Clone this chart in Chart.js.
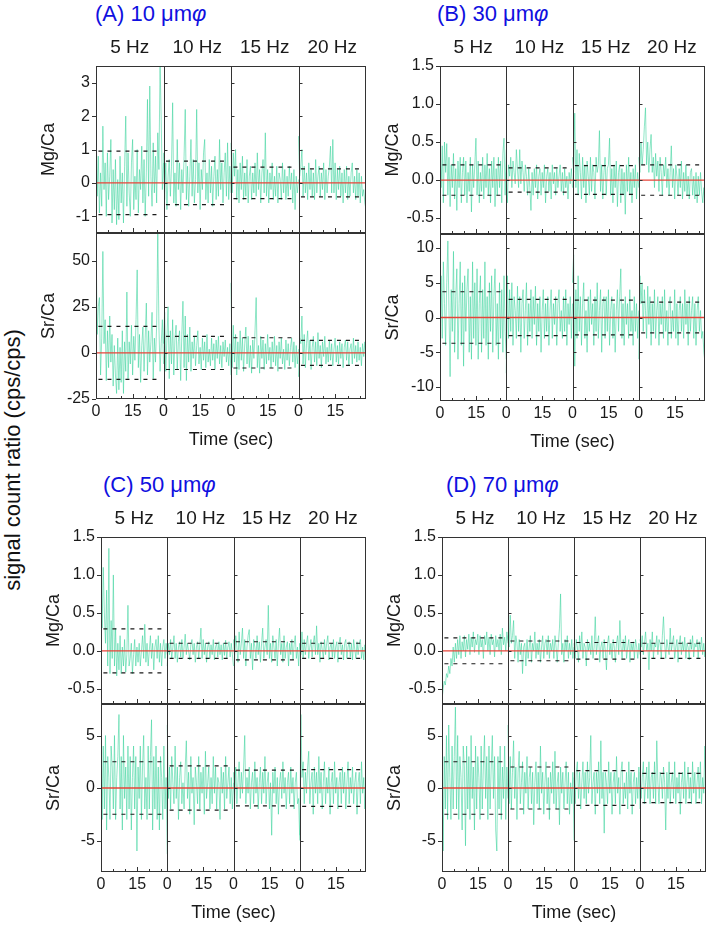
<!DOCTYPE html>
<html>
<head>
<meta charset="utf-8">
<script src="https://cdn.jsdelivr.net/npm/chart.js@4.4.1/dist/chart.umd.min.js"></script>
<style>
  html, body { margin: 0; padding: 0; background: #fff; }
  body { width: 709px; height: 928px; position: relative; overflow: hidden; font-family: "Liberation Sans", Arial, sans-serif; }
  canvas { position: absolute; }
  .panel-title { position: absolute; color: #1010e0; font-size: 22px; line-height: 24px; white-space: nowrap; }
  #ratio-label { position: absolute; left: 13px; top: 460px; font-size: 22px; white-space: nowrap;
    transform: translate(-50%, -50%) rotate(-90deg); color: #111; }
</style>
</head>
<body>
<div id="ratio-label">signal count ratio (cps/cps)</div>
<script>
// frequency segments and axis labels
const hzLabels = ['5 Hz', '10 Hz', '15 Hz', '20 Hz'];
const timeTicks = [0, 15];
const spotSizes = ['10', '30', '50', '70'];
const panelKeys = ['A', 'B', 'C', 'D'];

// (A) 10 um - Mg/Ca
const mgA5 = [2.0, -0.4, 0.8, -0.9, 0.3, -0.7, 1.7, -0.2, 0.6, -1.0, 0.9, -0.5, 0.2, 1.3, -1.2, 0.4, -0.8, 0.7, -1.25, 0.1, -1.1, 0.8, -0.6, 0.3, -1.2, 0.5, 2.0, -0.7, 0.9, -0.3, -1.0, 0.6, 1.3, -0.8, 0.2, -0.5, 1.0, -0.9, 0.4, -0.2, 1.1, -0.6, 0.7, -1.0, 0.3, 2.5, -0.4, 2.9, 0.2, -0.7, 1.2, -0.3, 0.8, -0.6, 1.5, 0.4, 3.6, 1.9, -0.2, 0.6];
const mgA10 = [0.9, -0.5, 0.6, -0.8, 0.2, 0.7, -0.4, 0.5, 2.4, -0.6, 0.3, -0.7, 1.3, -0.2, 0.6, -0.8, 0.4, -0.3, 0.8, 2.2, -0.5, 0.5, -0.7, 0.2, 1.3, -0.4, 0.7, -0.6, 0.1, 2.2, -0.3, 0.6, -0.8, 0.4, -0.2, 0.9, 1.3, -0.5, 0.3, -0.6, 0.7, -0.3, 0.5, -0.7, 0.2, 0.8, -0.5, 0.4, -0.4, 1.3, -0.2, 0.6, -0.6, 0.3, 0.9, -0.4, 1.2, -0.5, 0.5, -0.3];
const mgA15 = [1.2, -0.3, 0.9, 0.2, 1.0, -0.5, 0.4, -0.6, 0.6, -0.2, 0.8, -0.5, 0.3, -0.4, 0.7, -0.6, 0.2, 0.5, -0.5, 0.3, -0.3, 0.6, -0.4, 0.9, -0.2, 0.4, -0.6, 0.3, 0.7, -0.3, 1.5, -0.4, 0.4, -0.6, 0.3, -0.2, 0.6, -0.5, 0.2, -0.4, 0.5, -0.6, 0.3, 0.1, -0.5, 0.6, -0.3, 0.4, -0.5, 0.2, -0.4, 0.5, -0.2, 0.3, -0.6, 0.4, -0.8, 0.2, -0.3, 0.1];
const mgA20 = [1.4, 0.2, 0.5, 1.0, -0.4, 0.5, -0.3, 0.3, -0.5, 0.6, -0.2, 0.4, -0.4, 0.3, -0.5, 0.7, -0.3, 0.2, 0.5, -0.4, 0.3, -0.2, 0.6, -0.5, 0.4, -0.3, 0.2, 0.5, 1.1, -0.3, 1.3, -0.3, 0.6, -0.5, 0.4, -0.2, 0.5, -0.4, 0.3, -0.6, 0.4, -0.3, 0.5, -0.5, 0.2, -0.4, 0.3, 0.6, -0.3, 0.2, -0.5, 0.4, -0.4, 0.3, -0.6, 0.2, -0.4, -0.2, -0.6, -0.8];
// (A) 10 um - Sr/Ca
const srA5 = [66, 10, 25, 30, -12, 8, 55, 5, 18, -15, 12, -8, 20, -5, 10, -18, 4, -12, -22, 8, -20, 3, -16, 12, -22, 6, -10, 33, -14, 6, -6, 15, -12, 9, -4, 18, 45, -8, 10, -16, 4, 14, -10, 8, 27, -12, 12, -5, 6, 22, -14, 8, -5, 15, 65, 14, -10, 5, 18, -6];
const srA10 = [5, 22, -10, 8, 25, -14, 12, -6, 18, -12, 8, 15, -9, 6, 12, -15, 10, 28, -8, 20, -15, 10, -5, 14, -10, 6, -3, 9, -7, 4, 12, -6, 3, -9, 8, -4, 6, -8, 10, -5, 2, -7, 8, -4, 5, -9, 7, -3, 9, -6, 4, -8, 6, -2, 7, -5, 3, -7, 5, -12];
const srA15 = [38, -8, 15, -5, 10, -12, 6, -9, 12, -4, 8, -10, 5, 14, -6, 9, -8, 4, -11, 7, -3, 12, 30, -8, 4, -11, 9, -3, 7, -9, 5, -6, 10, -4, 3, -8, 6, -5, 9, -7, 4, -10, 6, -3, 8, -6, 2, -9, 7, -4, 5, -7, 3, 8, -5, 6, -8, 4, -6, 2];
const srA20 = [-13, 8, 5, 20, -6, 10, -8, 5, 12, -4, 7, -9, 3, 9, -5, 6, -7, 11, -3, 4, -8, 6, -2, 9, -6, 3, -5, 7, -4, 5, -7, 2, 8, -5, 4, -6, 6, -3, 5, -8, 3, 7, -4, 6, -7, 2, 5, -6, 8, -3, 4, -5, 6, -4, 3, -7, 5, -2, 6, -4];

// (B) 30 um
const mgB5 = [0.5, -0.1, 0.45, -0.3, 0.5, 0.1, 0.48, -0.2, 0.3, -0.35, 0.2, -0.1, 0.35, -0.25, 0.15, -0.4, 0.25, -0.1, 0.3, -0.3, 0.1, 0.3, -0.2, 0.25, -0.3, 0.1, -0.15, 0.3, -0.42, 0.2, -0.1, 0.2, 0.55, -0.2, 0.25, -0.3, 0.1, -0.15, 0.3, -0.25, 0.2, -0.1, 0.35, -0.2, 0.15, -0.3, 0.25, -0.1, 0.3, -0.35, 0.15, -0.2, 0.3, -0.1, 0.25, -0.3, 0.35, 0.55, -0.2, 0.4];
const mgB10 = [0.1, -0.3, 0.2, 0.05, 0.3, -0.1, 0.25, 0.1, -0.05, 0.4, 0.15, -0.1, 0.4, -0.05, 0.25, 0.1, -0.15, 0.2, 0.05, -0.2, 0.15, -0.1, -0.4, 0.1, -0.2, 0.15, -0.1, 0.2, -0.25, 0.05, 0.15, -0.2, 0.1, -0.1, 0.2, -0.3, 0.05, 0.15, -0.15, 0.1, -0.25, 0.2, -0.05, 0.1, -0.2, 0.15, -0.1, 0.05, 0.2, -0.15, 0.1, -0.2, 0.15, -0.1, 0.05, -0.25, 0.1, -0.05, 0.15, -0.1];
const mgB15 = [0.3, 0.1, 0.88, -0.1, 0.4, -0.2, 0.35, 0.1, -0.25, 0.3, -0.1, 0.2, -0.3, 0.25, 0.05, -0.2, 0.3, -0.15, 0.2, 0.1, -0.25, 0.3, 0.1, 0.2, 0.65, -0.15, 0.2, -0.25, 0.1, 0.3, -0.2, 0.15, 0.2, 0.55, -0.2, 0.15, -0.3, 0.2, -0.1, 0.25, -0.35, 0.1, 0.2, -0.3, 0.15, -0.2, 0.1, -0.45, 0.2, -0.15, 0.3, -0.2, 0.1, -0.3, 0.15, -0.1, 0.2, -0.25, 0.1, -0.1];
const mgB20 = [0.3, 0.1, 0.5, 0.2, 0.4, 0.7, 0.95, 0.2, 0.5, 0.1, 0.4, 0.6, 0.1, 0.3, -0.1, 0.35, 0.05, 0.25, -0.15, 0.3, 0.1, -0.2, 0.2, 0.05, 0.3, -0.1, 0.15, -0.2, 0.1, 0.45, -0.1, 0.15, -0.25, 0.2, 0.05, -0.2, 0.15, -0.1, 0.25, -0.25, 0.1, -0.15, 0.2, -0.2, 0.05, -0.25, 0.1, 0.15, -0.2, 0.05, -0.25, 0.1, -0.3, 0.05, -0.2, 0.1, -0.15, -0.3, -0.1, -0.35];
const srB5 = [-7, 6, -3, 8, 2, -4, 5, 11, 1, -8.5, 4, -2, 9.5, -5, 3, 7, -6, 2, 8, -4, 5, -7, 6, -2, 4, 7, -5, 3, -6, 8, -3, 5, -4, 7, -6, 2, 6, -5, 4, -3, 8, -4, 3, -6, 5, -2, 6, -5, 3, 7, -4, 2, -6, 5, -3, 4, -5, 6, -2, -6];
const srB10 = [-8, 6, -3, 4, -2, 5, -4, 3, 1, -3, 4.5, -2, 3, -5, 2, 4, -3, 1, 5, -4, 2, -2, 4, -3, 3, -1, 4.5, -4, 2, -2, 3, -5, 1, 4, -3, 2, -2, 3, -4, 1, 4, -3, 2, -1, 3, -4, 2, 4, -2, 1, -3, 3, -2, 4, -4, 2, -1, 3, -3, 2];
const srB15 = [5, 9, -7, 4, -3, 6, -2, 3, -4, 2, 5, -3, 1, -5, 3, -2, 4, -1, 2, -4, 3, -2, 5, -3, 1, 4, -5, 2, 3, -3, 3, -2, 4, -4, 1, 3, -3, 2, -5, 1, 4, -2, 3, 7, -3, 2, -4, 3, -1, 2, -3, 4, -2, 1, -4, 3, -2, 2, -3, 1];
const srB20 = [-6, 6, 2, 5, -2, 4, 1, -3, 4.5, -1, 3, -4, 2, -2, 4, -3, 1, 3, -4, 2, -1, 3, -3, 4, -2, 1, -4, 2, 3, -3, 1, -2, 4, -3, 2, -4, 1, 3, -2, 2, -3, 4, -1, 2, -4, 3, -2, 1, 3, -3, 2, -4, 1, 3, -2, 1, -3, -2, -5, -6.5];

// (C) 50 um
const mgC5 = [1.2, 0.3, 1.1, 0.5, 0.1, 0.8, -0.2, 1.35, -0.3, 0.4, -0.1, 1.0, -0.2, 0.3, -0.33, 0.1, -0.25, 0.2, -0.3, 0.05, -0.2, 0.15, -0.28, -0.05, 0.6, -0.2, -0.1, 0.1, -0.3, -0.05, 0.15, -0.2, 0.05, -0.15, 0.1, -0.2, 0.0, 0.2, -0.1, 0.35, -0.15, 0.1, -0.2, 0.0, 0.2, -0.1, 0.1, -0.25, 0.05, 0.15, -0.1, 0.2, -0.15, 0.1, -0.2, 0.05, 0.15, -0.1, 0.1, -0.05];
const mgC10 = [-0.2, 0.1, -0.05, 0.15, -0.1, 0.05, 0.2, -0.1, 0.1, -0.15, 0.05, 0.12, -0.08, 0.15, -0.1, 0.05, 0.22, -0.05, 0.1, 0.0, -0.12, 0.08, 0.15, -0.05, 0.1, -0.15, 0.05, 0.12, -0.1, 0.08, 0.3, -0.1, 0.15, -0.05, 0.1, -0.15, 0.05, 0.12, -0.1, 0.08, -0.05, 0.15, -0.12, 0.05, 0.1, -0.08, 0.12, -0.05, 0.08, -0.12, 0.1, -0.06, 0.14, -0.1, 0.05, 0.12, -0.08, 0.1, -0.05, -0.2];
const mgC15 = [0.15, -0.1, 0.2, 0.05, -0.15, 0.25, -0.05, 0.1, 0.3, -0.1, 0.15, -0.2, 0.05, 0.2, 0.28, -0.1, 0.1, -0.25, 0.15, 0.05, -0.1, 0.2, -0.05, 0.12, -0.15, 0.1, 0.3, -0.1, 0.05, 0.15, -0.05, 0.6, -0.1, 0.1, -0.15, 0.2, 0.05, -0.1, 0.15, -0.2, 0.1, 0.3, -0.05, 0.1, -0.15, 0.2, -0.1, 0.05, 0.12, -0.2, 0.1, -0.05, 0.15, -0.12, 0.08, 0.2, -0.1, 0.05, -0.2, 0.1];
const mgC20 = [0.1, -0.05, 0.25, -0.1, 0.15, -0.05, 0.1, 0.2, -0.1, 0.05, 0.15, -0.08, 0.1, 0.2, -0.05, 0.33, -0.05, 0.1, -0.15, 0.12, 0.02, -0.1, 0.15, -0.05, 0.1, 0.2, -0.12, 0.05, 0.1, -0.08, 0.15, -0.1, 0.05, 0.12, -0.15, 0.1, 0.18, -0.05, 0.08, -0.12, 0.1, 0.15, -0.1, 0.05, 0.12, -0.08, 0.1, -0.12, 0.15, 0.02, -0.1, 0.12, -0.05, 0.1, 0.15, -0.1, 0.05, -0.12, 0.08, -0.05];
const srC5 = [6.8, -3, 4, -2, 5, -4, 3, 1, -3, 4, 2, -2, 5, -3, 1, 3, 7, -2, 3, -4, 5, -1, 2, -3, 4, -2, 3, -4, 1, 4, -2, 3, -6, 2, -1, 4, -3, 2, 5, -2, 1, -3, 4, -2, 3, 6.5, -4, 3, -2, 4, -3, 2, -4, 3, 1, -3, 4, -2, 1, -6.3];
const srC10 = [6, -1, 2, -2, 3, 0.5, -1.5, 4, -1, 2, -3, 1, 2.5, -1.5, 0.5, -2, 2, 4.5, -1, 1.5, -2.5, 3, -0.5, 1, -3.5, 2, 0.5, -1.5, 3, -2, 1.5, -0.5, 2, -2.5, 3.5, -1, 0.5, 2, -2, 1, -1.5, 3, -0.5, 2, -2, 1, 0.5, -3, 2, -0.5, 1.5, -2, 3, -1, 0.5, 2, -1.5, 1, -2, 0.5];
const srC15 = [1.5, -1, 2, -1.5, 0.5, 2.5, -1, 1.5, -0.5, 2, 5, -1.5, 1, -0.5, 2, -2, 0.5, 1.5, -1.5, 2.5, -0.5, 1, -2, 0.5, 2, -1.5, 1.5, -0.5, 3, -1.5, 0.5, 1.5, -2, 0.5, -4.5, 1.5, -0.5, 2, -1.5, 1, -2.5, 0.5, 1.5, -1, 2.5, -0.5, 1, -2, 0.5, 1.5, -1.5, 2, -0.5, 1, -2, 0.5, 1.5, -1.5, -1, -5];
const srC20 = [-4.5, 7, 1, 2.5, -1.5, 1.5, -0.5, 2, 3.5, -1.5, 0.5, 1.5, -2.5, 2, -0.5, 1.5, -1.5, 3, -0.5, 1.5, -2, 0.5, 2.5, -1.5, 1, -0.5, 2, -2.5, 0.5, 1.5, -1.5, 2.5, -0.5, 1, -2, 0.5, 1.5, -1.5, 2, -0.5, 1.5, -2, 0.5, 2.5, -1.5, 1, -0.5, 2, -1.5, 0.5, 1.5, -2.5, 0.5, 1.5, -1.5, 2.5, -0.5, 1, -2, 0.5];

// (D) 70 um
const mgD5 = [-0.65, -0.5, -0.4, -0.45, -0.3, -0.35, -0.2, -0.3, -0.1, -0.2, 0.05, -0.15, 0.1, -0.1, 0.15, -0.05, 0.2, -0.1, 0.12, 0.0, 0.2, -0.08, 0.15, 0.02, 0.22, -0.05, 0.18, 0.05, 0.25, -0.02, 0.15, 0.08, 0.22, -0.05, 0.2, 0.05, 0.15, -0.1, 0.2, 0.08, 0.25, 0.0, 0.18, -0.05, 0.22, 0.08, 0.15, -0.08, 0.2, 0.05, 0.15, 0.0, 0.22, -0.05, 0.3, 0.08, 0.18, 0.0, 0.25, 0.1];
const mgD10 = [0.2, 0.05, 0.47, 0.1, 0.2, 0.4, -0.1, 0.2, 0.1, -0.15, 0.15, -0.05, 0.1, -0.3, 0.05, 0.1, -0.2, 0.15, -0.1, 0.05, 0.2, -0.15, 0.1, 0.0, 0.25, -0.1, 0.1, -0.05, 0.15, -0.15, 0.05, 0.2, -0.1, 0.1, 0.15, -0.05, 0.2, -0.1, 0.1, 0.0, 0.15, -0.1, 0.2, 0.05, -0.15, 0.1, 0.3, 0.75, -0.05, 0.1, -0.15, 0.15, 0.0, 0.2, -0.1, 0.1, -0.05, 0.15, -0.1, 0.05];
const mgD15 = [0.1, -0.1, 0.15, 0.05, -0.15, 0.2, 0.0, 0.25, -0.1, 0.1, 0.05, -0.2, 0.15, 0.0, 0.1, -0.05, 0.2, -0.1, 0.05, 0.45, -0.05, 0.1, 0.2, -0.15, 0.05, 0.12, -0.1, 0.15, 0.0, -0.25, 0.1, 0.2, -0.05, 0.1, -0.1, 0.15, 0.05, -0.15, 0.1, 0.2, -0.05, 0.4, 0.05, -0.1, 0.15, 0.0, 0.2, -0.1, 0.05, 0.15, -0.15, 0.1, 0.0, 0.12, -0.1, 0.15, 0.05, -0.1, 0.1, -0.05];
const mgD20 = [0.15, 0.05, 0.2, -0.05, 0.1, 0.25, 0.0, 0.1, -0.25, 0.15, 0.0, 0.25, -0.1, 0.1, 0.05, 0.2, -0.05, 0.15, 0.1, -0.1, 0.2, 0.45, 0.1, -0.1, 0.15, 0.05, -0.05, 0.3, 0.0, 0.1, 0.2, -0.1, 0.05, 0.15, -0.15, 0.1, 0.2, -0.05, 0.12, 0.0, 0.18, -0.1, 0.1, 0.05, -0.12, 0.15, 0.02, 0.2, -0.08, 0.1, 0.05, 0.15, -0.1, 0.12, 0.0, 0.18, -0.05, 0.1, -0.08, 0.1];
const srD5 = [6.5, -6, 3, -2, 5, -3, 6, 1, -3, 4, -2, 3, 7.7, -2, 5, -3, 3, 1, -4, 4, 2, -5.5, 4, -2, 3, -3, 5, -1, 2, -4, 4, -2, 3, 1, -3, 4, -2, 2, 5, -1, 3, -3, 4, -2, 2, 5, -1, 3, -4, -6, 3, -2, 4, -3, 2, -1, 4, -3, 2, -1];
const srD10 = [6, -1.5, 3, -2, 1.5, 4.5, -1, 2, -3, 1.5, 3.5, -1.5, 0.5, 2.5, -2.5, 1.5, -0.5, 3, -2, 1, 2, -1.5, 1.5, -3.5, 0.5, 2.5, -1.5, 1.5, -2, 4, -0.5, 1.5, -2.5, 0.5, 2.5, -1.5, 1, -3, 1.5, -0.5, 2.5, -1.5, 3.5, -2, 0.5, 1.5, -3.5, 2, -0.5, 1.5, -2, 0.5, 2.5, -1.5, 1.5, -2.5, 0.5, -1.5, 1.5, -5];
const srD15 = [1, -1.5, 1.5, 2.5, -1, 1.5, -2, 0.5, 2.5, -1, 1.5, -1.5, 2.5, -0.5, 1, 5, -1.5, 0.5, 1.5, -2.5, 1.5, -0.5, 2.5, -1.5, 4.5, -1, 1.5, -4.3, 1.5, 0.5, -1.5, 2.5, -0.5, 1.5, -2.5, 0.5, 1.5, -1.5, 3, -0.5, 1, -2.5, 1.5, 2.5, -1.5, 0.5, -1, 1.5, -2, 2.5, -0.5, 1.5, -2.5, 0.5, 1.5, -1.5, 1, -1, 2, -2];
const srD20 = [1.5, -1, 1, 2.5, -1.5, 0.5, 2, -1, 2.5, -1.5, 1, 1.5, -1, 2.5, -1.5, 4.5, 0.5, -1.5, 1.5, 1, -1, 2, 0.5, -4, 1.5, -1, 2.5, -1.5, 0.5, 1.5, -1, 2.5, -1.5, 1, -0.5, 1.5, -2.5, 0.5, 1.5, -1, 2.5, -1.5, 0.5, 2, -1, 1, -1.5, 2.5, -0.5, 1.5, -1.5, 0.5, 2, -1, 2.5, -1.5, 1, -0.5, 4, -1];

// standard deviation (dashed lines), one per frequency
const sdMgA = [0.95, 0.65, 0.47, 0.42];
const sdSrA = [14.4, 9, 8.2, 6.8];
const sdMgB = [0.2, 0.16, 0.19, 0.2];
const sdSrB = [3.7, 2.6, 2.5, 2.2];
const sdMgC = [0.29, 0.1, 0.12, 0.1];
const sdSrC = [2.5, 2.1, 1.7, 1.75];
const sdMgD = [0.17, 0.13, 0.11, 0.1];
const sdSrD = [2.5, 2.0, 1.65, 1.4];

// y axes
const mgTicksA = [-1, 0, 1, 2, 3];
const mgRangeA = [-1.5, 3.5];
const srTicksA = [-25, 0, 25, 50];
const srRangeA = [-25, 65];
const mgTicksB = [-0.5, 0, 0.5, 1, 1.5];
const mgRangeB = [-0.71, 1.5];
const srTicksB = [-10, -5, 0, 5, 10];
const srRangeB = [-12, 12];
const mgTicksCD = [-0.5, 0, 0.5, 1, 1.5];
const mgRangeCD = [-0.7, 1.5];
const srTicksCD = [-5, 0, 5];
const srRangeCD = [-8, 8];

const SEG = 27.5;          // seconds per frequency block
const DASH_FROM = 1, DASH_TO = 26;
const GREEN = 'rgba(55, 210, 155, 0.8)';
const RED = '#e8443a';
const INK = '#1a1a1a';
const FONT = '"Liberation Sans", Arial, sans-serif';
Chart.defaults.font.family = FONT;
Chart.defaults.color = INK;

const panels = [
  { box: { L: 96, R: 366, T: 66, M: 233, B: 399 }, titleX: 95, titleY: 2,
    mg: [mgA5, mgA10, mgA15, mgA20], sr: [srA5, srA10, srA15, srA20], sdMg: sdMgA, sdSr: sdSrA,
    mgTicks: mgTicksA, mgRange: mgRangeA, mgDec: 0, srTicks: srTicksA, srRange: srRangeA },
  { box: { L: 440, R: 705, T: 66, M: 234, B: 401 }, titleX: 437, titleY: 2,
    mg: [mgB5, mgB10, mgB15, mgB20], sr: [srB5, srB10, srB15, srB20], sdMg: sdMgB, sdSr: sdSrB,
    mgTicks: mgTicksB, mgRange: mgRangeB, mgDec: 1, srTicks: srTicksB, srRange: srRangeB },
  { box: { L: 101, R: 366, T: 537, M: 704, B: 872 }, titleX: 103, titleY: 473,
    mg: [mgC5, mgC10, mgC15, mgC20], sr: [srC5, srC10, srC15, srC20], sdMg: sdMgC, sdSr: sdSrC,
    mgTicks: mgTicksCD, mgRange: mgRangeCD, mgDec: 1, srTicks: srTicksCD, srRange: srRangeCD },
  { box: { L: 442, R: 706, T: 537, M: 704, B: 872 }, titleX: 446, titleY: 473,
    mg: [mgD5, mgD10, mgD15, mgD20], sr: [srD5, srD10, srD15, srD20], sdMg: sdMgD, sdSr: sdSrD,
    mgTicks: mgTicksCD, mgRange: mgRangeCD, mgDec: 1, srTicks: srTicksCD, srRange: srRangeCD },
];

// frame, block dividers and tick marks
const framePlugin = {
  id: 'frame',
  afterDatasetsDraw(chart) {
    const { ctx, chartArea: a, scales: { x, y } } = chart;
    const line = (x1, y1, x2, y2) => { ctx.beginPath(); ctx.moveTo(x1, y1); ctx.lineTo(x2, y2); ctx.stroke(); };
    ctx.save();
    ctx.strokeStyle = '#333';
    ctx.lineWidth = 1;
    ctx.strokeRect(a.left + 0.5, a.top + 0.5, a.right - a.left - 1, a.bottom - a.top - 1);
    const dividers = [];
    for (let k = 1; k < hzLabels.length; k++) {
      const px = Math.round(x.getPixelForValue(k * SEG)) + 0.5;
      dividers.push(px);
      line(px, a.top, px, a.bottom);
    }
    for (let k = 0; k < hzLabels.length; k++) {
      for (let t = 5; t < SEG; t += 5) {
        const px = Math.round(x.getPixelForValue(k * SEG + t)) + 0.5;
        line(px, a.bottom, px, a.bottom - (t === 15 ? 5 : 3));
      }
    }
    y.ticks.forEach(tk => {
      const py = Math.round(y.getPixelForValue(tk.value)) + 0.5;
      line(a.left - 4, py, a.left, py);
      dividers.forEach(px => line(px, py, px + 3, py));
    });
    ctx.restore();
  }
};

function segPoints(values, k) {
  const step = SEG / (values.length - 1);
  return values.map((v, i) => ({ x: k * SEG + i * step, y: v }));
}

function buildDatasets(series, sds) {
  const sets = [];
  series.forEach((vals, k) => sets.push({
    data: segPoints(vals, k), borderColor: GREEN, borderWidth: 0.7, order: 3
  }));
  sets.push({ data: [{ x: 0, y: 0 }, { x: hzLabels.length * SEG, y: 0 }], borderColor: RED, borderWidth: 1.3, order: 2 });
  sds.forEach((s, k) => {
    [s, -s].forEach(v => sets.push({
      data: [{ x: k * SEG + DASH_FROM, y: v }, { x: k * SEG + DASH_TO, y: v }],
      borderColor: INK, borderWidth: 1.2, borderDash: [4, 5], order: 1
    }));
  });
  return sets;
}

const Y_W = 58, PAD_R = 6, TOP_H = 36, BOT_H = 56;

function noEdgePadding(s) {
  s.paddingTop = 0; s.paddingBottom = 0; s.paddingLeft = 0; s.paddingRight = 0;
}

function drawSubplot(box, top, bottom, series, sds, yTicks, yRange, yDec, yTitle, withHz, withTime) {
  const canvas = document.createElement('canvas');
  const w = box.R - box.L + Y_W + PAD_R;
  const h = (bottom - top) + (withHz ? TOP_H : 6) + (withTime ? BOT_H : 6);
  canvas.width = w;
  canvas.height = h;
  canvas.style.left = (box.L - Y_W) + 'px';
  canvas.style.top = (top - (withHz ? TOP_H : 6)) + 'px';
  canvas.style.width = w + 'px';
  canvas.style.height = h + 'px';
  document.body.appendChild(canvas);

  const xMax = hzLabels.length * SEG;
  const scales = {
    x: {
      type: 'linear', position: 'bottom', min: 0, max: xMax,
      grid: { display: false, drawTicks: false }, border: { display: false },
      afterBuildTicks: s => {
        s.ticks = [];
        hzLabels.forEach((_, k) => timeTicks.forEach(t => s.ticks.push({ value: k * SEG + t })));
      },
      ticks: {
        display: withTime, padding: 3, autoSkip: false, maxRotation: 0,
        font: { size: 16 }, color: INK,
        callback: v => String(Math.round(v - Math.floor((v + 0.01) / SEG) * SEG))
      },
      title: { display: withTime, text: 'Time (sec)', font: { size: 18 }, color: INK, padding: { top: 0, bottom: 4 } },
      afterFit: s => { s.height = withTime ? BOT_H : 0; noEdgePadding(s); }
    },
    y: {
      type: 'linear', position: 'left', min: yRange[0], max: yRange[1],
      grid: { display: false, drawTicks: false }, border: { display: false },
      afterBuildTicks: s => { s.ticks = yTicks.map(v => ({ value: v })); },
      ticks: { padding: 6, font: { size: 16 }, color: INK, callback: v => Number(v).toFixed(yDec) },
      title: { display: true, text: yTitle, font: { size: 18 }, color: INK, padding: { top: 0, bottom: 0 } },
      afterFit: s => { s.width = Y_W; noEdgePadding(s); }
    }
  };
  if (withHz) {
    scales.xTop = {
      type: 'linear', position: 'top', min: 0, max: xMax,
      grid: { display: false, drawTicks: false }, border: { display: false },
      afterBuildTicks: s => { s.ticks = hzLabels.map((_, k) => ({ value: k * SEG + SEG / 2 })); },
      ticks: {
        padding: 7, autoSkip: false, maxRotation: 0, font: { size: 19 }, color: INK,
        callback: v => hzLabels[Math.floor(v / SEG)]
      },
      afterFit: s => { s.height = TOP_H; noEdgePadding(s); }
    };
  }

  new Chart(canvas, {
    type: 'line',
    data: { datasets: buildDatasets(series, sds) },
    options: {
      responsive: false,
      animation: false,
      events: [],
      parsing: false,
      elements: { point: { radius: 0 }, line: { tension: 0 } },
      layout: { padding: { left: 0, right: PAD_R, top: withHz ? 0 : 6, bottom: withTime ? 0 : 6 } },
      plugins: { legend: { display: false }, tooltip: { enabled: false }, title: { display: false } },
      scales
    },
    plugins: [framePlugin]
  });
}

panels.forEach((p, i) => {
  const t = document.createElement('div');
  t.className = 'panel-title';
  t.style.left = p.titleX + 'px';
  t.style.top = p.titleY + 'px';
  t.innerHTML = '(' + panelKeys[i] + ') ' + spotSizes[i] + ' \u03bcm<i>\u03c6</i>';
  document.body.appendChild(t);

  const b = p.box;
  drawSubplot(b, b.T, b.M, p.mg, p.sdMg, p.mgTicks, p.mgRange, p.mgDec, 'Mg/Ca', true, false);
  drawSubplot(b, b.M, b.B, p.sr, p.sdSr, p.srTicks, p.srRange, 0, 'Sr/Ca', false, true);
});
</script>
</body>
</html>
